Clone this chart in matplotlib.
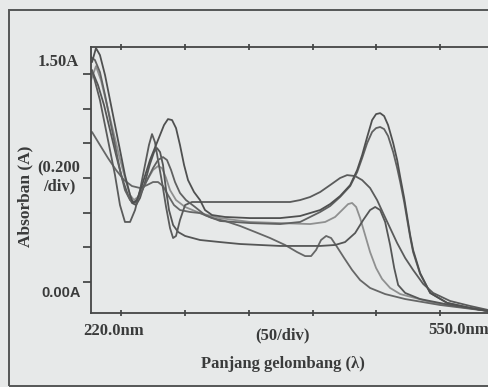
import matplotlib.pyplot as plt
from matplotlib.patches import Rectangle

# ==========================================
# Data (nm, absorbance)
# ==========================================
wl_b = [227.3, 233.5, 239.8, 245.3, 249.2, 253.1, 257.1, 261.0, 264.9, 268.8, 271.9, 274.3,
        276.6, 279.0, 282.1, 285.3, 288.4, 290.8, 293.1, 296.2, 300.2, 305.6, 351.1, 382.4,
        390.3, 398.1, 406.0, 413.8, 421.6, 427.1, 433.4, 438.9, 445.1, 450.6, 455.3, 460.8,
        466.3, 472.6, 478.8, 486.7, 494.5, 507.8, 523.5, 537.6, 550.0]
abs_b = [1.529, 1.312, 1.024, 0.771, 0.555, 0.433, 0.433, 0.519, 0.663, 0.844, 0.988, 1.067,
         1.009, 0.880, 0.721, 0.541, 0.389, 0.317, 0.332, 0.447, 0.555, 0.577, 0.577, 0.577,
         0.591, 0.613, 0.649, 0.699, 0.750, 0.771, 0.764, 0.735, 0.678, 0.591, 0.497, 0.389,
         0.281, 0.173, 0.087, -0.014, -0.079, -0.137, -0.173, -0.202, -0.216]

wl_t1 = [227.3, 230.4, 233.5, 237.5, 241.4, 245.3, 249.2, 253.1, 257.1, 259.4, 262.5, 266.5,
         272.7, 279.0, 283.7, 286.8, 290.0, 293.1, 296.2, 299.4, 302.5, 307.2, 311.9, 315.8,
         321.3, 331.5, 351.1, 374.6, 390.3, 406.0, 413.8, 421.6, 429.5, 435.0, 438.9, 442.8,
         446.7, 449.8, 453.0, 456.1, 459.2, 463.2, 466.3, 468.7, 471.8, 474.2, 476.5, 478.8,
         484.3, 492.2, 505.5, 523.5, 537.6, 550.0]
abs_t1 = [1.586, 1.687, 1.637, 1.492, 1.312, 1.132, 0.952, 0.771, 0.627, 0.570, 0.591, 0.699,
          0.880, 1.024, 1.132, 1.175, 1.168, 1.110, 0.988, 0.844, 0.735, 0.649, 0.591, 0.519,
          0.483, 0.469, 0.461, 0.461, 0.476, 0.519, 0.562, 0.620, 0.699, 0.808, 0.916, 1.045,
          1.168, 1.211, 1.218, 1.197, 1.132, 1.002, 0.880, 0.757, 0.606, 0.469, 0.339, 0.231,
          0.065, -0.079, -0.151, -0.187, -0.209, -0.224]

wl_t2 = [226.5, 229.6, 233.5, 237.5, 241.4, 245.3, 249.2, 253.1, 257.1, 261.0, 264.9, 270.4,
         275.1, 279.0, 282.9, 286.0, 289.2, 292.3, 296.2, 300.9, 308.0, 315.8, 327.6, 351.1,
         374.6, 390.3, 406.0, 413.8, 421.6, 429.5, 435.0, 438.9, 442.8, 446.7, 449.8, 453.0,
         456.1, 459.2, 463.2, 466.3, 468.7, 471.8, 474.2, 476.5, 478.8, 484.3, 492.2, 505.5,
         523.5, 537.6, 550.0]
abs_t2 = [1.622, 1.601, 1.514, 1.348, 1.168, 0.988, 0.808, 0.663, 0.591, 0.570, 0.627, 0.735,
          0.822, 0.880, 0.901, 0.880, 0.808, 0.721, 0.642, 0.591, 0.541, 0.483, 0.440, 0.425,
          0.418, 0.433, 0.505, 0.548, 0.613, 0.692, 0.793, 0.894, 1.002, 1.082, 1.110, 1.118,
          1.103, 1.053, 0.937, 0.822, 0.721, 0.577, 0.447, 0.324, 0.216, 0.058, -0.079, -0.151,
          -0.187, -0.209, -0.224]

wl_c = [228.1, 232.0, 236.7, 241.4, 246.1, 250.8, 255.5, 258.6, 261.8, 264.9, 268.8, 272.7,
        275.9, 278.2, 280.6, 282.9, 285.3, 287.6, 290.8, 294.7, 300.2, 311.9, 327.6, 343.3,
        358.9, 374.6, 406.0, 417.7, 425.5, 433.4, 439.7, 445.1, 449.1, 453.0, 456.9, 460.8,
        464.0, 467.1, 472.6, 484.3, 507.8, 537.6, 550.0]
abs_c = [1.507, 1.420, 1.276, 1.096, 0.916, 0.750, 0.627, 0.570, 0.555, 0.606, 0.721, 0.851,
         0.937, 0.966, 0.937, 0.844, 0.663, 0.519, 0.411, 0.361, 0.332, 0.303, 0.288, 0.274,
         0.267, 0.260, 0.260, 0.267, 0.288, 0.353, 0.447, 0.519, 0.541, 0.519, 0.433, 0.267,
         0.101, -0.022, -0.079, -0.123, -0.166, -0.209, -0.224]

wl_d = [227.3, 233.5, 239.8, 246.1, 252.4, 258.6, 264.9, 270.4, 275.1, 279.0, 282.9, 286.8,
        291.5, 296.2, 304.1, 311.9, 321.3, 331.5, 343.3, 355.0, 366.8, 378.5, 387.9, 394.2,
        398.9, 402.8, 406.7, 410.7, 414.6, 419.3, 424.8, 431.0, 437.3, 445.1, 456.9, 472.6,
        500.0, 537.6, 550.0]
abs_d = [1.082, 0.988, 0.894, 0.808, 0.735, 0.692, 0.678, 0.699, 0.721, 0.721, 0.692, 0.627,
         0.555, 0.519, 0.505, 0.497, 0.461, 0.440, 0.404, 0.361, 0.317, 0.267, 0.216, 0.187,
         0.187, 0.231, 0.303, 0.332, 0.317, 0.252, 0.173, 0.087, 0.014, -0.043, -0.087, -0.123,
         -0.166, -0.209, -0.224]

wl_l = [226.5, 230.4, 234.3, 239.0, 243.7, 248.4, 253.1, 257.1, 260.2, 264.1, 269.6, 275.1,
        279.0, 282.1, 285.3, 288.4, 293.1, 300.2, 311.9, 327.6, 351.1, 374.6, 398.1, 409.9,
        417.7, 423.2, 427.9, 431.0, 434.2, 437.3, 441.2, 445.1, 449.8, 454.5, 460.8, 468.7,
        492.2, 515.7, 537.6, 550.0]
abs_l = [1.456, 1.557, 1.456, 1.276, 1.096, 0.916, 0.750, 0.627, 0.591, 0.620, 0.721, 0.808,
         0.836, 0.822, 0.750, 0.663, 0.591, 0.541, 0.497, 0.461, 0.433, 0.425, 0.418, 0.433,
         0.469, 0.519, 0.562, 0.570, 0.541, 0.461, 0.339, 0.216, 0.101, 0.022, -0.043, -0.087,
         -0.144, -0.180, -0.209, -0.224]

curves = [
    (wl_l, abs_l, '#8f9090'),
    (wl_d, abs_d, '#666767'),
    (wl_c, abs_c, '#555656'),
    (wl_b, abs_b, '#5a5b5b'),
    (wl_t2, abs_t2, '#606161'),
    (wl_t1, abs_t1, '#4f5050'),
]

y_ticks = [0.0, 0.25, 0.5, 0.75, 1.0, 1.25, 1.5]
x_ticks = [250, 300, 350, 400, 450, 500]

W, H = 488, 387
BG = '#e7e9e9'
INK = '#3a3b3b'

fig = plt.figure(figsize=(W / 100, H / 100), dpi=100, facecolor=BG)

# outer frame of the scanned figure
fig.patches.append(Rectangle((9 / W, 1 / H), 1.0, (H - 11) / H, transform=fig.transFigure,
                             fill=False, edgecolor='#555656', linewidth=1.4))

left, right, top, bottom = 91, 504, 47, 313
ax = fig.add_axes([left / W, 1 - bottom / H, (right - left) / W, (bottom - top) / H])
ax.set_facecolor(BG)

for x, y, c in curves:
    ax.plot(x, y, color=c, linewidth=1.3, solid_joinstyle='round', solid_capstyle='round')

ax.set_xlim(226.5, 550)
ax.set_ylim(-0.2236, 1.695)

ax.set_xticks(x_ticks)
ax.set_yticks(y_ticks)
ax.tick_params(axis='y', direction='out', length=6, width=1.2, color=INK, labelleft=False)
ax.tick_params(axis='x', direction='inout', length=4, width=1.2, color=INK,
               top=True, labelbottom=False)
for s in ax.spines.values():
    s.set_color('#454646')
    s.set_linewidth(1.3)


def ftext(px, py, s, **kw):
    fig.text(px / W, 1 - py / H, s, color=INK, fontweight='bold', **kw)


serif = 'Liberation Serif'
ftext(58, 62, '1.50A', family=serif, fontsize=12, ha='center', va='center')
ftext(59, 177, '(0.200\n/div)', family=serif, fontsize=12, ha='center', va='center',
      linespacing=1.15)
ftext(61, 293, '0.00A', family='Liberation Sans', fontsize=10.5, ha='center', va='center')
ftext(25, 196, 'Absorban (A)', family=serif, fontsize=12.5, ha='center', va='center',
      rotation=90)
ftext(114, 331, '220.0nm', family=serif, fontsize=12, ha='center', va='center')
ftext(283, 335, '(50/div)', family=serif, fontsize=12, ha='center', va='center')
ftext(428, 330, '550.0nm', family=serif, fontsize=12, ha='left', va='center')
ftext(283, 364, 'Panjang gelombang (\u03bb)', family=serif, fontsize=12, ha='center',
      va='center')

fig.savefig('out.png', dpi=100, facecolor=BG)
